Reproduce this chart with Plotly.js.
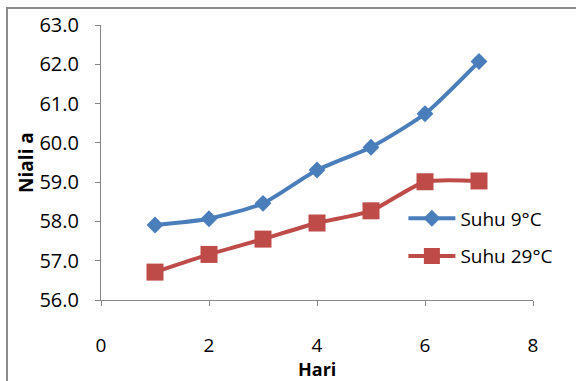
<!DOCTYPE html>
<html>
<head>
<meta charset="utf-8">
<script src="https://cdn.plot.ly/plotly-3.0.1.min.js"></script>
<style>html,body{margin:0;padding:0;background:#fff;}#chart{width:576px;height:381px;}</style>
</head>
<body>
<div id="chart"></div>
<script>
const hari = [1, 2, 3, 4, 5, 6, 7];
const suhu9 = [57.91, 58.07, 58.46, 59.31, 59.89, 60.74, 62.07];
const suhu29 = [56.71, 57.16, 57.55, 57.96, 58.27, 59.01, 59.03];
const seriesNames = ['Suhu 9°C', 'Suhu 29°C'];
const yTicks = [56, 57, 58, 59, 60, 61, 62, 63];
const xTicks = [0, 2, 4, 6, 8];
const xTitle = 'Hari';
const yTitle = 'Niali a';

const FONT = 'Open Sans, sans-serif';
const traces = [
  {x: hari, y: suhu9, name: seriesNames[0], type: 'scatter', mode: 'lines+markers',
   line: {color: '#4A7EBB', width: 4, shape: 'spline', smoothing: 0.6},
   marker: {symbol: 'diamond', size: 13, color: '#4A7EBB'}, legendgroup: 'a'},
  {x: hari, y: suhu29, name: seriesNames[1], type: 'scatter', mode: 'lines+markers',
   line: {color: '#BE4B48', width: 4, shape: 'spline', smoothing: 0.6},
   marker: {symbol: 'square', size: 17, color: '#BE4B48'}, legendgroup: 'b'}
];
const layout = {
  width: 576, height: 381,
  margin: {l: 101, r: 43, t: 25, b: 81},
  paper_bgcolor: '#fff', plot_bgcolor: '#fff',
  font: {family: FONT, size: 20, color: '#000'},
  showlegend: true,
  legend: {x: 0.70, y: 0.366, xanchor: 'left', yanchor: 'top', bgcolor: 'rgba(0,0,0,0)',
           font: {family: FONT, size: 19, color: '#000'}, tracegroupgap: 10, itemwidth: 47},
  xaxis: {range: [0, 8], tickvals: xTicks, ticks: 'outside', ticklen: 5, tickcolor: '#868686',
          showline: true, linecolor: '#868686', linewidth: 1, showgrid: false, zeroline: false,
          tickfont: {family: FONT, size: 19}, ticklabelstandoff: 23},
  yaxis: {range: [56, 63], tickvals: yTicks, tickformat: '.1f', ticks: 'outside', ticklen: 5, tickcolor: '#868686',
          showline: true, linecolor: '#868686', linewidth: 1, showgrid: false, zeroline: false,
          tickfont: {family: FONT, size: 20}, ticklabelstandoff: 12,
          title: {text: '<b>' + yTitle + '</b>', font: {family: FONT, size: 19}, standoff: 0}},
  annotations: [{text: '<b>' + xTitle + '</b>', xref: 'paper', yref: 'paper', x: 0.5, y: -0.251,
                 xanchor: 'center', yanchor: 'middle', showarrow: false, font: {family: FONT, size: 18}}],
  shapes: [{type: 'rect', xref: 'paper', yref: 'paper', x0: -0.2176, x1: 1.5, y0: -0.5, y1: 1.0618,
            line: {color: '#8C8C8C', width: 2}, fillcolor: 'rgba(0,0,0,0)', layer: 'below'}]
};
Plotly.newPlot('chart', traces, layout, {displayModeBar: false, staticPlot: true});
</script>
</body>
</html>
